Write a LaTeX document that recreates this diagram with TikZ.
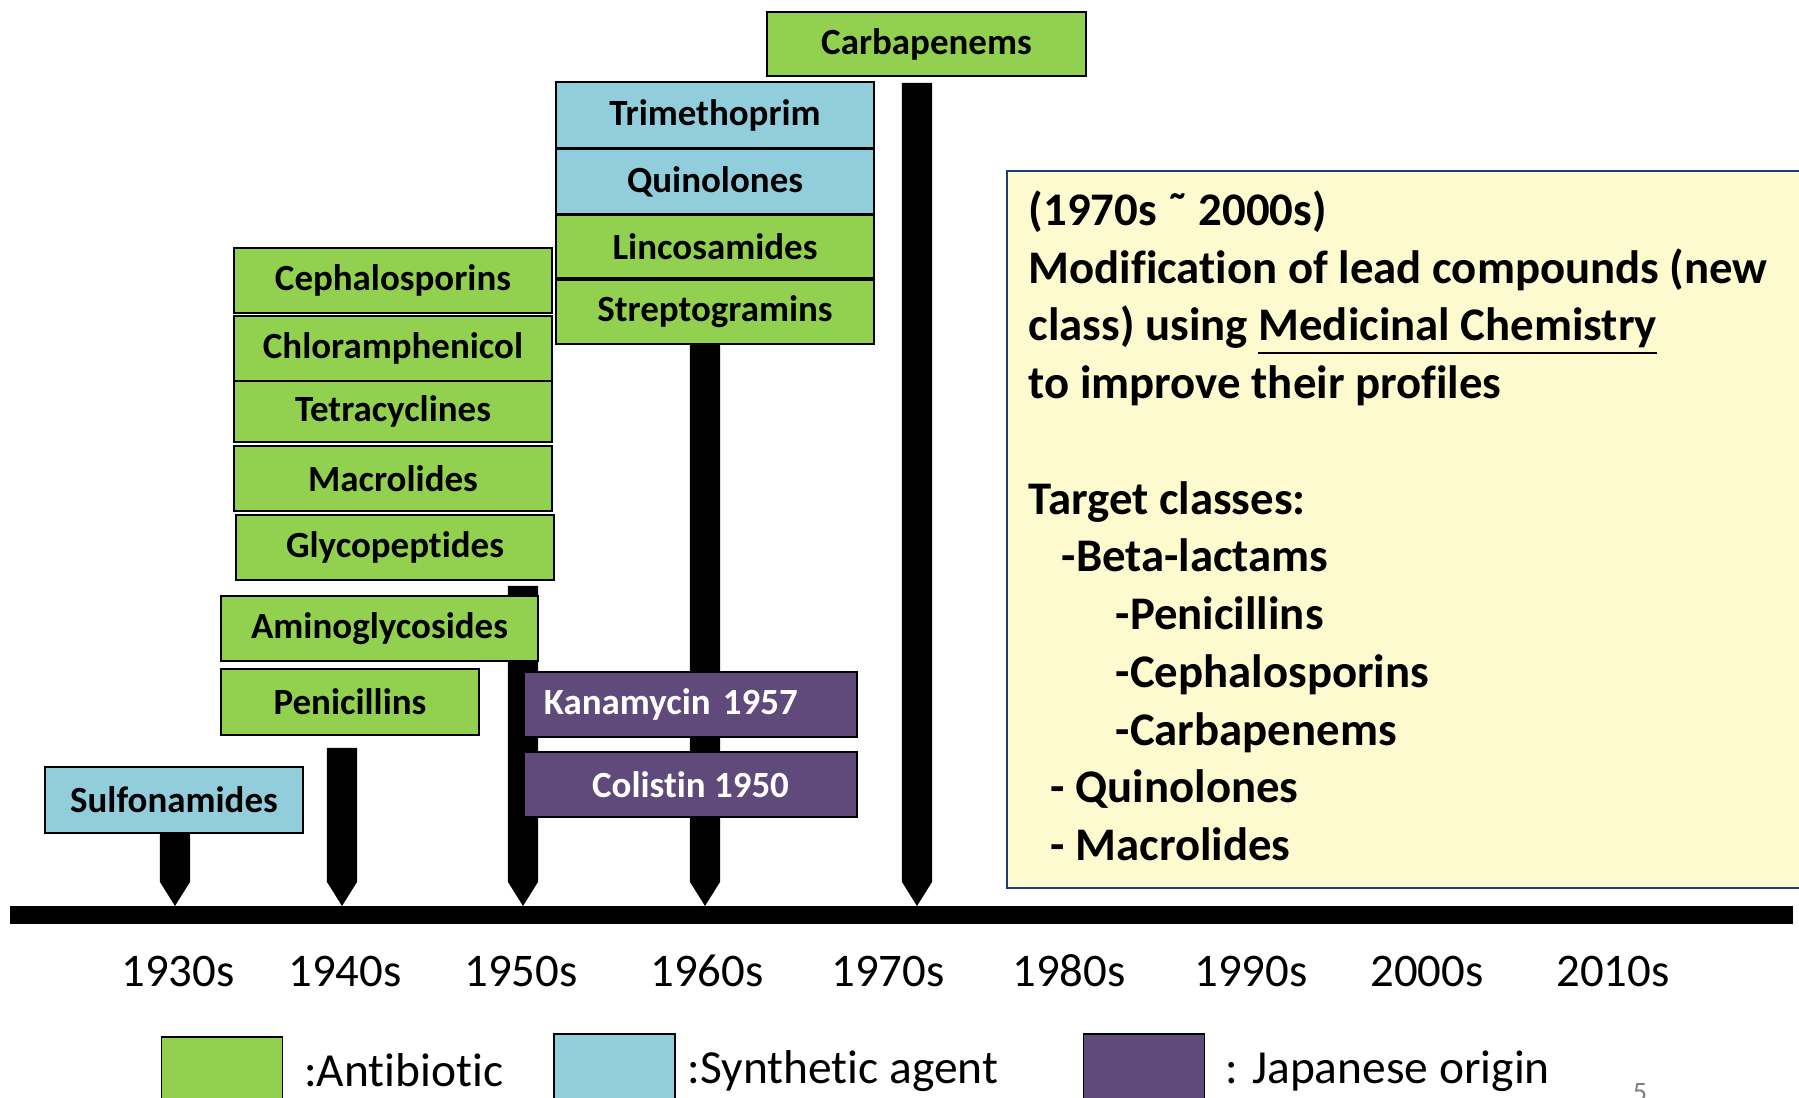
\documentclass[tikz,border=0pt]{standalone}
\usepackage{fontspec}
\setmainfont{Carlito}[Ligatures=NoCommon]
\usepackage{xcolor}
\usetikzlibrary{calc, backgrounds, positioning}

\definecolor{abgreen}{HTML}{92D050}
\definecolor{synblue}{HTML}{92CDDC}
\definecolor{jppurple}{HTML}{604A7B}
\definecolor{notefill}{HTML}{FEFAD0}
\definecolor{noteline}{HTML}{203A7A}

% stem from a top point down to a pointed tip on the time line
\newcommand{\stem}[2]{%
  \fill let \p1=(#1), \p2=(#2) in
    (\x2-0.15cm,\y1) -- (\x2+0.15cm,\y1) -- (\x2+0.15cm,\y2+0.24cm)
    -- (\x2,\y2) -- (\x2-0.15cm,\y2+0.24cm) -- cycle;}

\tikzset{
  drug/.style={draw=black, line width=0.6pt, inner sep=0pt, minimum height=0.65cm,
    font=\bfseries\fontsize{10.5}{12}\selectfont},
  abx/.style={drug, fill=abgreen},
  syn/.style={drug, fill=synblue},
  jpn/.style={drug, fill=jppurple, text=white},
  year/.style={anchor=base, inner sep=0pt, font=\fontsize{13.3}{16}\selectfont},
  key/.style={draw=black, line width=0.5pt, minimum width=1.21cm, minimum height=1cm, inner sep=0pt},
  keytext/.style={inner sep=0pt, font=\fontsize{13.5}{16}\selectfont},
}

\begin{document}
\begin{tikzpicture}[x=0.01cm, y=-0.01cm]
	\useasboundingbox (0,0) rectangle (1799,1098);
	
	% 1930s and 1940s
	\node[syn, minimum width=2.58cm, minimum height=0.66cm] (sulfa) at (174,800) {Sulfonamides};
	\node[abx, minimum width=2.58cm, minimum height=0.66cm] (peni) at (350,702) {Penicillins};
	\node[abx, minimum width=3.17cm] (amino) at (379.5,628.5) {Aminoglycosides};
	\node[abx, minimum width=3.18cm] (glyco) at (395,547.5) {Glycopeptides};
	\node[abx, minimum width=3.18cm] (macro) at (393,478.5) {Macrolides};
	\node[abx, minimum width=3.18cm, minimum height=0.61cm] (tetra) at (393,411.5) {Tetracyclines};
	\node[abx, minimum width=3.18cm] (chlor) at (393,348.5) {Chloramphenicol};
	\node[abx, minimum width=3.18cm] (ceph) at (393,280.5) {Cephalosporins};
	
	% 1950s and 1960s
	\node[jpn, minimum width=3.33cm, text width=2.93cm, align=left, inner xsep=0.2cm] (kana) at (690.5,704.5) {Kanamycin 1957};
	\node[jpn, minimum width=3.33cm] (coli) at (690.5,784.5) {Colistin 1950};
	\node[abx, minimum width=3.18cm, minimum height=0.64cm] (strep) at (715,312) {Streptogramins};
	\node[abx, minimum width=3.18cm, minimum height=0.63cm] (linc) at (715,246.5) {Lincosamides};
	\node[syn, minimum width=3.18cm] (quin) at (715,181.5) {Quinolones};
	\node[syn, minimum width=3.18cm, minimum height=0.66cm] (trim) at (715,115) {Trimethoprim};
	
	% 1970s
	\node[abx, minimum width=3.19cm, minimum height=0.64cm] (carb) at (926.5,44) {Carbapenems};
	
	% Time line and stems
	\coordinate (tip30) at (175,906);
	\coordinate (tip40) at (342,906);
	\coordinate (tip50) at (523,906);
	\coordinate (tip60) at (705,906);
	\coordinate (tip70) at (917,906);
	\coordinate (top40) at (342,748);
	\coordinate (top50) at (523,586);
	\coordinate (top70) at (917,83);
	\begin{scope}[on background layer]
		\fill (10,906) rectangle (1793,924);
		\stem{sulfa.south}{tip30}
		\stem{top40}{tip40}
		\stem{top50}{tip50}
		\stem{strep.south}{tip60}
		\stem{top70}{tip70}
	\end{scope}
	
	% Decades
	\foreach \x/\yr in {178/1930, 345/1940, 521/1950, 707/1960, 888/1970, 1069/1980, 1251/1990, 1427/2000, 1613/2010}
		\node[year] (yr\yr) at (\x,987) {\yr s};
	
	% Note
	\draw[noteline, fill=notefill, line width=0.6pt] (1007,171) rectangle (1815,888);
	\node[anchor=north west, inner sep=0pt, align=left,
		font=\bfseries\fontsize{13.3}{16.42}\selectfont] (note) at (1028,190) {%
		(1970s ˜ 2000s)\\
		Modification of lead compounds (new\\
		class) using \underline{Medicinal Chemistry}\\
		to improve their profiles\\[0.577cm]
		Target classes:\\
		\hspace*{0.33cm}-Beta-lactams\\
		\hspace*{0.87cm}-Penicillins\\
		\hspace*{0.87cm}-Cephalosporins\\
		\hspace*{0.87cm}-Carbapenems\\
		\hspace*{0.22cm}- Quinolones\\
		\hspace*{0.22cm}- Macrolides};
	
	% Legend
	\node[key, fill=abgreen] (keyab) at (222,1087) {};
	\node[key, fill=synblue] (keysyn) at (614.5,1084) {};
	\node[key, fill=jppurple] (keyjp) at (1144,1084) {};
	\node[keytext, right=0.2cm of keyab, anchor=base west] (labab) {:Antibiotic};
	\node[keytext, right=0.11cm of keysyn, anchor=base west] (labsyn) {:Synthetic agent};
	\node[keytext, right=0.19cm of keyjp, anchor=base west] (labjp) {: Japanese origin};
	
	\node[anchor=north, inner sep=0pt, text=gray, font=\fontsize{8}{9}\selectfont] (pageno) at (1640,1083) {5};
\end{tikzpicture}
\end{document}
